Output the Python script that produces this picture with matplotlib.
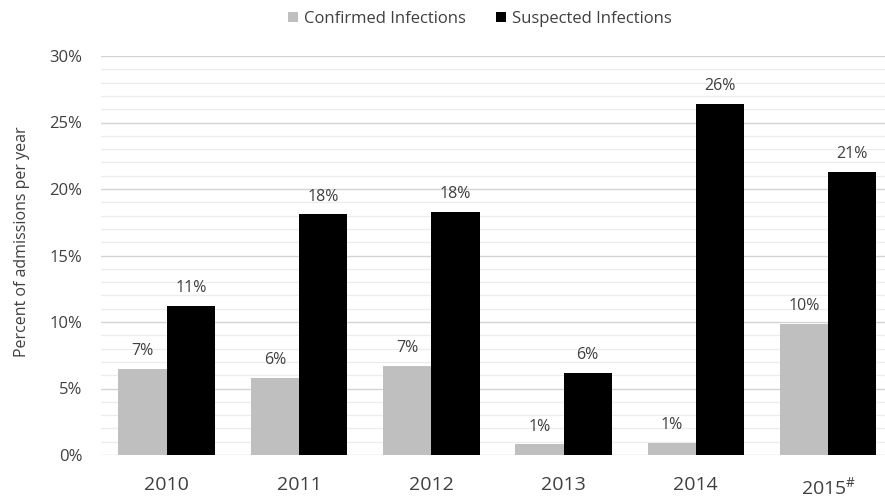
import matplotlib
matplotlib.use("Agg")
import matplotlib.pyplot as plt
import numpy as np
from matplotlib.ticker import MultipleLocator, FuncFormatter

years = ["2010", "2011", "2012", "2013", "2014", "2015$^{\\#}$"]
confirmed = [6.5, 5.8, 6.7, 0.8, 0.9, 9.85]
suspected = [11.2, 18.1, 18.3, 6.2, 26.4, 21.3]
confirmed_labels = ["7%", "6%", "7%", "1%", "1%", "10%"]
suspected_labels = ["11%", "18%", "18%", "6%", "26%", "21%"]

plt.rcParams['font.family'] = ['Open Sans', 'DejaVu Sans']
plt.rcParams['mathtext.fontset'] = 'custom'
plt.rcParams['mathtext.rm'] = 'Open Sans'
plt.rcParams['mathtext.it'] = 'Open Sans'
txt = "#404040"

fig = plt.figure(figsize=(8.85, 5), dpi=100)
left = 100.5 / 885
ax = fig.add_axes([left, 45 / 500, 1 - left, 399 / 500])

x = np.arange(len(years))
w = 0.365
ax.bar(x - w / 2, confirmed, w, color="#bfbfbf", label="Confirmed Infections", zorder=3)
ax.bar(x + w / 2, suspected, w, color="#000000", label="Suspected Infections", zorder=3)

for xi, v, lab in zip(x, confirmed, confirmed_labels):
    ax.annotate(lab, (xi - w / 2, v), xytext=(0, 7), textcoords="offset points",
                ha="center", va="bottom", fontsize=11.5, color=txt)
for xi, v, lab in zip(x, suspected, suspected_labels):
    ax.annotate(lab, (xi + w / 2, v), xytext=(0, 7), textcoords="offset points",
                ha="center", va="bottom", fontsize=11.5, color=txt)

ax.set_xlim(-0.5, -0.5 + 784.5 / 132.3)
ax.set_ylim(0, 30)
ax.yaxis.set_major_locator(MultipleLocator(5))
ax.yaxis.set_minor_locator(MultipleLocator(1))
ax.yaxis.set_major_formatter(FuncFormatter(lambda v, p: f"{int(round(v))}%"))
ax.grid(axis="y", which="major", color="#d4d4d4", linewidth=1.0, zorder=0)
ax.grid(axis="y", which="minor", color="#ececec", linewidth=0.9, zorder=0)
ax.set_axisbelow(True)
for s in ax.spines.values():
    s.set_visible(False)
ax.tick_params(axis="both", which="both", length=0)
ax.tick_params(axis="y", labelsize=12, labelcolor=txt, pad=13)
ax.tick_params(axis="x", labelsize=14, labelcolor=txt, pad=15)
ax.set_xticks(x)
ax.set_xticklabels(years)
ax.set_ylabel("Percent of admissions per year", fontsize=11.5, color=txt)
ax.yaxis.set_label_coords(-(100.5 - 30) / 784.5, 0.534)

fig.legend(loc="center", bbox_to_anchor=(479.5 / 885, 1 - 19 / 500), ncol=2, frameon=False,
           fontsize=12, handlelength=0.6, handleheight=0.6, columnspacing=1.8,
           handletextpad=0.36, labelcolor=txt, borderpad=0)

fig.savefig("out.png", dpi=100)
